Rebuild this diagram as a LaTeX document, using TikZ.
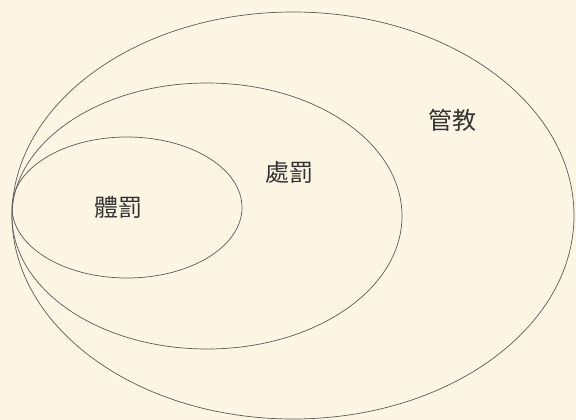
\documentclass[tikz,border=0pt]{standalone}
\usepackage{fontspec}
\newfontfamily\cjk{Noto Sans CJK TC}
\definecolor{bg}{HTML}{FCF5E3}
\definecolor{ln}{HTML}{5A5A5A}
\definecolor{tx}{HTML}{333333}
\begin{document}
\begin{tikzpicture}[x=1pt,y=-1pt,
  ring/.style={draw=ln,line width=0.7pt},
  lbl/.style={font=\cjk\fontsize{24}{24}\selectfont,text=tx,inner sep=0pt}]
\fill[bg] (0,0) rectangle (576,420);
\useasboundingbox (0,0) rectangle (576,420);
\draw[ring] (293,215.5) ellipse [x radius=281,y radius=203.5];
\draw[ring] (207,216) ellipse [x radius=195,y radius=133];
\draw[ring] (127,207.5) ellipse [x radius=115,y radius=70.5];
\node[lbl] (guan) at (452,120) {管教};
\node[lbl] (chu) at (289,172) {處罰};
\node[lbl] (ti) at (118,207) {體罰};
\end{tikzpicture}
\end{document}
